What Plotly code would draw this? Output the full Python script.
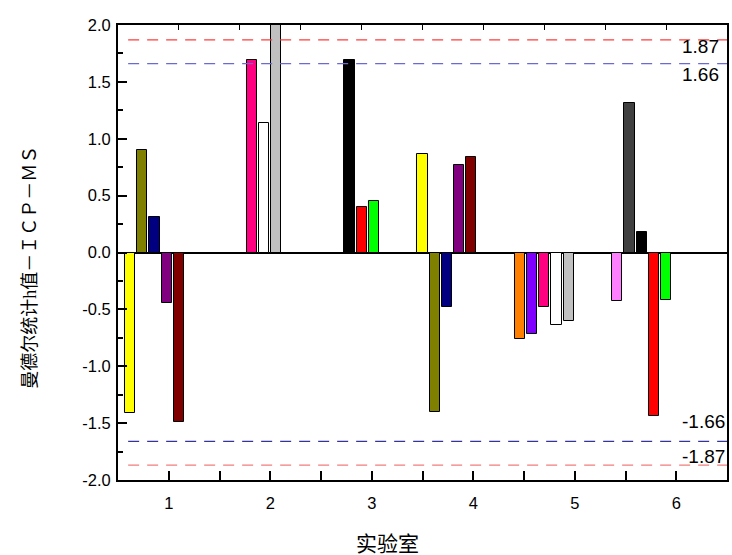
import plotly.graph_objects as go

# ---------------- data ----------------
labs = [1, 2, 3, 4, 5, 6]
lab_labels = ["1", "2", "3", "4", "5", "6"]

# Mandel h values, one column of consecutive slots (None = empty slot)
lab1_h = [-1.41, 0.90, 0.31, -0.44, -1.49, None, None, None, None, None]
lab2_h = [1.69, 1.14, 2.30, None, None, None, None, None]
lab3_h = [1.69, 0.40, 0.45, None, None, None]
lab4_h = [0.87, -1.40, -0.48, 0.77, 0.84, None, None, None]
lab5_h = [-0.76, -0.72, -0.48, -0.64, -0.60, None, None, None]
lab6_h = [-0.43, 1.31, 0.18, -1.44, -0.42]

crit_values = [1.87, 1.66, -1.66, -1.87]
crit_labels = ["1.87", "1.66", "-1.66", "-1.87"]

y_ticks = [-2.0, -1.5, -1.0, -0.5, 0.0, 0.5, 1.0, 1.5, 2.0]

# ---------------- style ----------------
origin_palette = ["#000000", "#FF0000", "#00FF00", "#0000FF", "#00FFFF", "#FF00FF",
                  "#FFFF00", "#808000", "#000080", "#800080", "#800000", "#008000",
                  "#008080", "#0000A0", "#FF8000", "#8000FF", "#FF0080", "#FFFFFF",
                  "#C0C0C0", "#808080", "#FFFF80", "#80FFFF", "#FF80FF", "#404040"]
PALETTE_START = 6
X0, STEP, BAR_W = 0.62, 0.12, 0.1
crit_colors = ["#FF3C3C", "#6A6AD2", "#34349A", "#F27C7C"]
crit_shift = [-6.5, -11, 20, 9]

num_font = "Liberation Sans, Arial, sans-serif"
cjk_font = "Liberation Serif, Noto Sans CJK SC, serif"

h_all = lab1_h + lab2_h + lab3_h + lab4_h + lab5_h + lab6_h
xs = [X0 + STEP * i for i in range(len(h_all))]
colors = [origin_palette[(i + PALETTE_START) % len(origin_palette)] for i in range(len(h_all))]

fig = go.Figure()
fig.add_trace(go.Bar(
    x=xs, y=h_all, width=BAR_W,
    marker=dict(color=colors, line=dict(color="black", width=1)),
    showlegend=False, hoverinfo="x+y",
))
# dummy trace for top axis
fig.add_trace(go.Scatter(x=[None], y=[None], xaxis="x2", yaxis="y",
                         showlegend=False, hoverinfo="skip"))

xr = [0.5, 6.5]
for v, c in zip(crit_values, crit_colors):
    fig.add_shape(type="line", xref="x", yref="y", x0=0.6, x1=xr[1], y0=v, y1=v,
                  line=dict(color=c, width=1.2, dash="11px,8px"), layer="above")

for v, t, s in zip(crit_values, crit_labels, crit_shift):
    fig.add_annotation(x=6.04, y=v, xref="x", yref="y", text=t, showarrow=False,
                       xanchor="left", yanchor="middle", yshift=s,
                       font=dict(family=num_font, size=19, color="black"))

# axis titles as annotations
fig.add_annotation(x=-0.145, y=0.468, xref="paper", yref="paper",
                   text="曼德尔统计h值－ＩＣＰ－ＭＳ", textangle=-90, showarrow=False,
                   xanchor="center", yanchor="middle",
                   font=dict(family=cjk_font, size=18, color="black"))
fig.add_annotation(x=0.442, y=-0.141, xref="paper", yref="paper",
                   text="实验室", showarrow=False, xanchor="center", yanchor="middle",
                   font=dict(family=cjk_font, size=21, color="black"))

fig.update_layout(
    width=732, height=555,
    margin=dict(l=118, r=3, t=25, b=75),
    paper_bgcolor="white", plot_bgcolor="white",
    bargap=0,
    xaxis=dict(range=xr, tickmode="array", tickvals=labs, ticktext=lab_labels,
               ticks="inside", ticklen=9, tickwidth=1.5, tickcolor="black",
               minor=dict(ticks="inside", ticklen=9, tickwidth=1.5, tickcolor="black",
                          tick0=0.5, dtick=0.5),
               showline=True, linecolor="black", linewidth=2, mirror=False,
               showgrid=False, zeroline=False, ticklabelstandoff=7,
               tickfont=dict(family=num_font, size=16.5, color="black")),
    xaxis2=dict(range=[0, 10], overlaying="x", side="top", anchor="y",
                tickmode="linear", tick0=0, dtick=1, ticks="inside", ticklen=5,
                tickwidth=1.2, tickcolor="black", showticklabels=False,
                showline=True, linecolor="black", linewidth=1.5,
                showgrid=False, zeroline=False),
    yaxis=dict(range=[-2, 2], tickmode="array", tickvals=y_ticks,
               ticktext=[f"{v:.1f}" for v in y_ticks],
               ticks="inside", ticklen=9, tickwidth=1.5, tickcolor="black",
               minor=dict(ticks="inside", ticklen=5, tickwidth=1.5, tickcolor="black",
                          tick0=0, dtick=0.25),
               showline=True, linecolor="black", linewidth=2, mirror=True,
               showgrid=False, zeroline=True, zerolinecolor="black", zerolinewidth=2,
               ticklabelstandoff=2,
               tickfont=dict(family=num_font, size=16.5, color="black")),
)

fig.write_html("out.html", config={"displayModeBar": False},
               post_script="document.body.style.margin='0';document.body.style.overflow='hidden';")
